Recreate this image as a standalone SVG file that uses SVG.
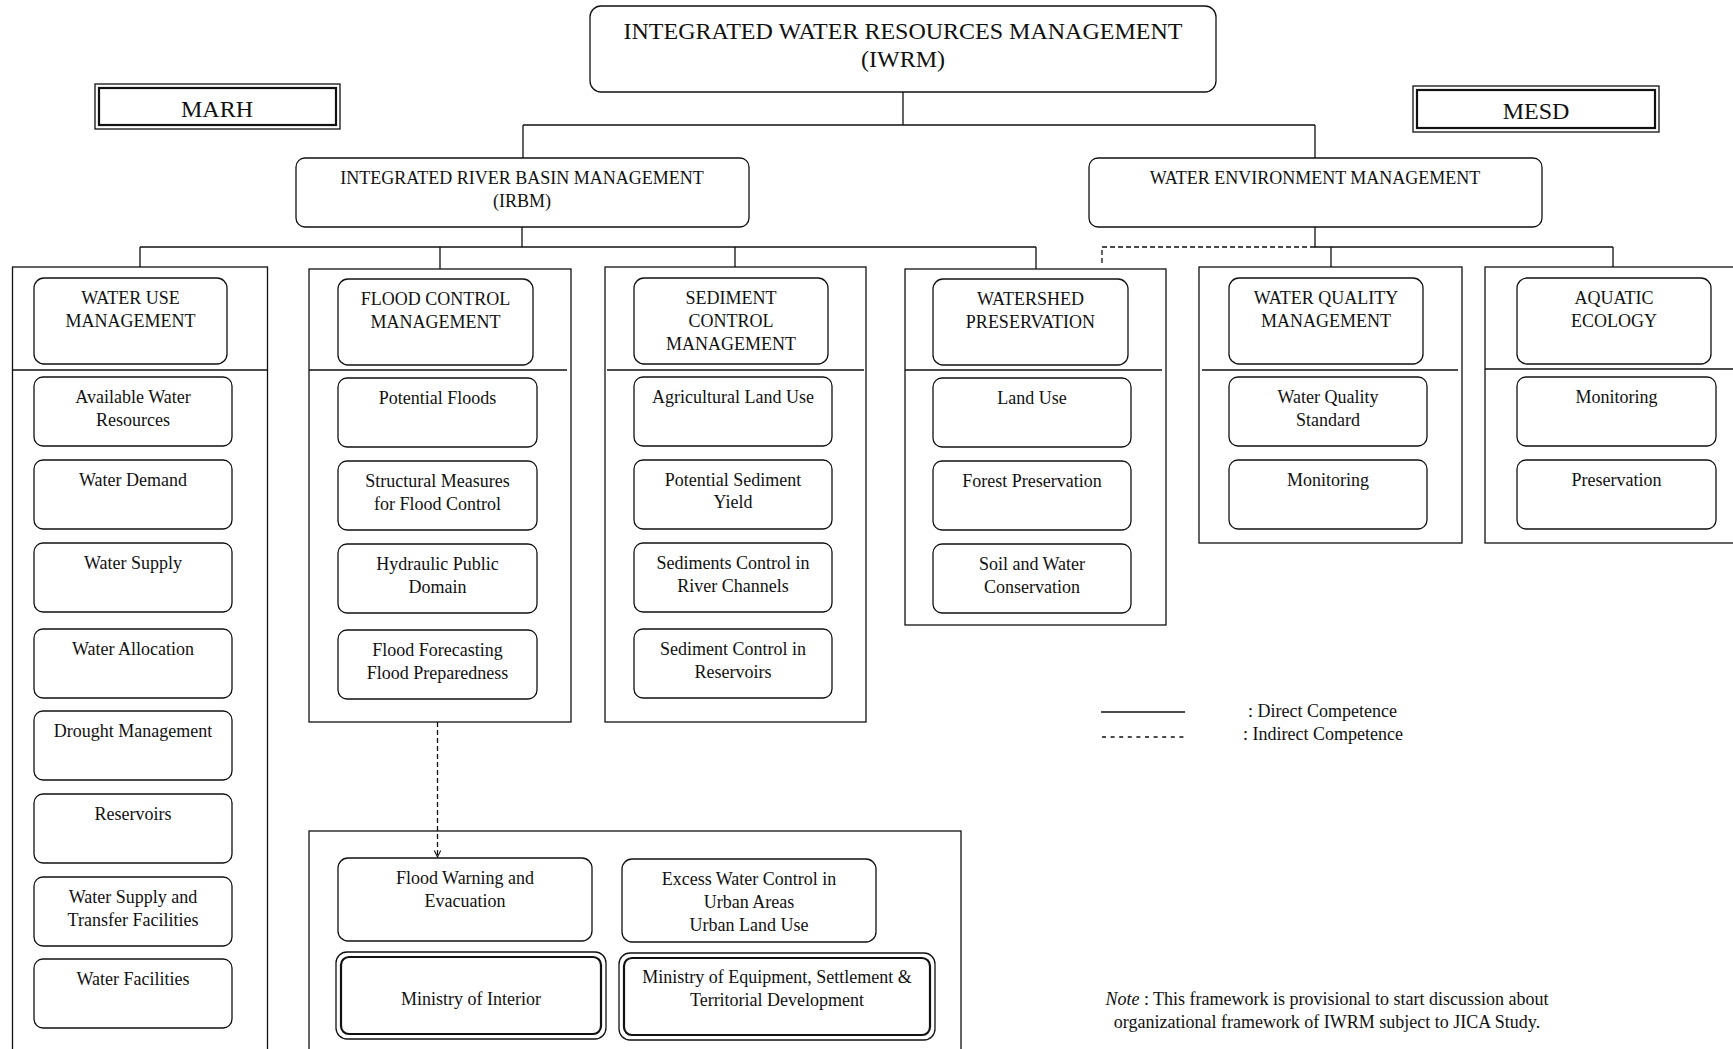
<svg xmlns="http://www.w3.org/2000/svg" width="1733" height="1049" viewBox="0 0 1733 1049">
  <style>
    .frame { fill: none; stroke: #111; stroke-width: 1.3; }
    .box { fill: #fff; stroke: #111; stroke-width: 1.3; }
    .inner { fill: none; stroke: #111; stroke-width: 2.2; }
    .conn { fill: none; stroke: #111; stroke-width: 1.3; }
    .dash { stroke-dasharray: 5 3; }
    text { font-family: "Liberation Serif", "Times New Roman", serif; font-size: 18px; fill: #111; }
    .c { text-anchor: middle; }
    .title { font-size: 24px; }
    .org { font-size: 24px; }
  </style>
  <defs>
    <marker id="openArrow" viewBox="0 0 10 10" refX="9" refY="5" markerWidth="8" markerHeight="8" markerUnits="userSpaceOnUse" orient="auto">
      <path d="M1,1 L9,5 L1,9" fill="none" stroke="#111" stroke-width="1.3"/>
    </marker>
  </defs>
  <rect width="1733" height="1049" fill="#fff"/>

  <!-- connectors -->
  <g id="connectors">
    <path class="conn" d="M903,92 V125 M523,125 H1315 M523,125 V158 M1315,125 V158"/>
    <path class="conn" d="M522,227 V247 M140,247 H1036 M140,247 V267 M440,247 V269 M735,247 V267 M1036,247 V269"/>
    <path class="conn" d="M1315,227 V247 H1613 M1331,247 V267 M1613,247 V267"/>
    <path class="conn dash" d="M1315,247 H1102 V265"/>
    <path class="conn dash" d="M437.5,722 V857" marker-end="url(#openArrow)"/>
  </g>

  <!-- top level -->
  <g id="iwrm">
    <rect class="box" x="590" y="6" width="626" height="86" rx="11"/>
    <text class="c title" x="903" y="39">INTEGRATED WATER RESOURCES MANAGEMENT</text>
    <text class="c title" x="903" y="67">(IWRM)</text>
  </g>
  <g id="marh">
    <rect class="frame" x="95" y="84" width="245" height="45"/>
    <rect class="inner" x="99" y="88" width="237" height="37"/>
    <text class="c org" x="217" y="117">MARH</text>
  </g>
  <g id="mesd">
    <rect class="frame" x="1413" y="86" width="246" height="46"/>
    <rect class="inner" x="1417" y="90" width="238" height="38"/>
    <text class="c org" x="1536" y="119">MESD</text>
  </g>
  <g id="irbm">
    <rect class="box" x="296" y="158" width="453" height="69" rx="9"/>
    <text class="c" x="522" y="184">INTEGRATED RIVER BASIN MANAGEMENT</text>
    <text class="c" x="522" y="207">(IRBM)</text>
  </g>
  <g id="wem">
    <rect class="box" x="1089" y="158" width="453" height="69" rx="9"/>
    <text class="c" x="1315" y="184">WATER ENVIRONMENT MANAGEMENT</text>
  </g>

  <!-- water use column -->
  <g id="col-water-use">
    <rect class="frame" x="12.5" y="267" width="255" height="800"/>
    <line class="conn" x1="12.5" y1="370" x2="268" y2="370"/>
    <g id="water-use-mgmt">
      <rect class="box" x="34" y="278" width="193" height="86" rx="10"/>
      <text class="c" x="130.5" y="304">WATER USE</text>
      <text class="c" x="130.5" y="327">MANAGEMENT</text>
    </g>
    <g id="available-water">
      <rect class="box" x="34" y="377" width="198" height="69" rx="9"/>
      <text class="c" x="133" y="403">Available Water</text>
      <text class="c" x="133" y="426">Resources</text>
    </g>
    <g id="water-demand">
      <rect class="box" x="34" y="460" width="198" height="69" rx="9"/>
      <text class="c" x="133" y="486">Water Demand</text>
    </g>
    <g id="water-supply">
      <rect class="box" x="34" y="543" width="198" height="69" rx="9"/>
      <text class="c" x="133" y="569">Water Supply</text>
    </g>
    <g id="water-allocation">
      <rect class="box" x="34" y="629" width="198" height="69" rx="9"/>
      <text class="c" x="133" y="655">Water Allocation</text>
    </g>
    <g id="drought">
      <rect class="box" x="34" y="711" width="198" height="69" rx="9"/>
      <text class="c" x="133" y="737">Drought Management</text>
    </g>
    <g id="reservoirs">
      <rect class="box" x="34" y="794" width="198" height="69" rx="9"/>
      <text class="c" x="133" y="820">Reservoirs</text>
    </g>
    <g id="supply-transfer">
      <rect class="box" x="34" y="877" width="198" height="69" rx="9"/>
      <text class="c" x="133" y="903">Water Supply and</text>
      <text class="c" x="133" y="926">Transfer Facilities</text>
    </g>
    <g id="water-facilities">
      <rect class="box" x="34" y="959" width="198" height="69" rx="9"/>
      <text class="c" x="133" y="985">Water Facilities</text>
    </g>
  </g>

  <!-- flood control column -->
  <g id="col-flood">
    <rect class="frame" x="309" y="269" width="262" height="453"/>
    <line class="conn" x1="309" y1="370" x2="567" y2="370"/>
    <g id="flood-mgmt">
      <rect class="box" x="338" y="279" width="195" height="86" rx="10"/>
      <text class="c" x="435.5" y="305">FLOOD CONTROL</text>
      <text class="c" x="435.5" y="328">MANAGEMENT</text>
    </g>
    <g id="potential-floods">
      <rect class="box" x="338" y="378" width="199" height="69" rx="9"/>
      <text class="c" x="437.5" y="404">Potential Floods</text>
    </g>
    <g id="structural-measures">
      <rect class="box" x="338" y="461" width="199" height="69" rx="9"/>
      <text class="c" x="437.5" y="487">Structural Measures</text>
      <text class="c" x="437.5" y="510">for Flood Control</text>
    </g>
    <g id="hydraulic-domain">
      <rect class="box" x="338" y="544" width="199" height="69" rx="9"/>
      <text class="c" x="437.5" y="570">Hydraulic Public</text>
      <text class="c" x="437.5" y="593">Domain</text>
    </g>
    <g id="flood-forecasting">
      <rect class="box" x="338" y="630" width="199" height="69" rx="9"/>
      <text class="c" x="437.5" y="656">Flood Forecasting</text>
      <text class="c" x="437.5" y="679">Flood Preparedness</text>
    </g>
  </g>

  <!-- sediment column -->
  <g id="col-sediment">
    <rect class="frame" x="605" y="267" width="261" height="455"/>
    <line class="conn" x1="607" y1="370" x2="864" y2="370"/>
    <g id="sediment-mgmt">
      <rect class="box" x="634" y="278" width="194" height="86" rx="10"/>
      <text class="c" x="731" y="304">SEDIMENT</text>
      <text class="c" x="731" y="327">CONTROL</text>
      <text class="c" x="731" y="350">MANAGEMENT</text>
    </g>
    <g id="agri-land-use">
      <rect class="box" x="634" y="377" width="198" height="69" rx="9"/>
      <text class="c" x="733" y="403">Agricultural Land Use</text>
    </g>
    <g id="sediment-yield">
      <rect class="box" x="634" y="460" width="198" height="69" rx="9"/>
      <text class="c" x="733" y="486">Potential Sediment</text>
      <text class="c" x="733" y="508">Yield</text>
    </g>
    <g id="river-channels">
      <rect class="box" x="634" y="543" width="198" height="69" rx="9"/>
      <text class="c" x="733" y="569">Sediments Control in</text>
      <text class="c" x="733" y="592">River Channels</text>
    </g>
    <g id="sediment-reservoirs">
      <rect class="box" x="634" y="629" width="198" height="69" rx="9"/>
      <text class="c" x="733" y="655">Sediment Control in</text>
      <text class="c" x="733" y="678">Reservoirs</text>
    </g>
  </g>

  <!-- watershed column -->
  <g id="col-watershed">
    <rect class="frame" x="905" y="269" width="261" height="356"/>
    <line class="conn" x1="905" y1="370" x2="1162" y2="370"/>
    <g id="watershed-mgmt">
      <rect class="box" x="933" y="279" width="195" height="86" rx="10"/>
      <text class="c" x="1030.5" y="305">WATERSHED</text>
      <text class="c" x="1030.5" y="328">PRESERVATION</text>
    </g>
    <g id="land-use">
      <rect class="box" x="933" y="378" width="198" height="69" rx="9"/>
      <text class="c" x="1032" y="404">Land Use</text>
    </g>
    <g id="forest">
      <rect class="box" x="933" y="461" width="198" height="69" rx="9"/>
      <text class="c" x="1032" y="487">Forest Preservation</text>
    </g>
    <g id="soil-water">
      <rect class="box" x="933" y="544" width="198" height="69" rx="9"/>
      <text class="c" x="1032" y="570">Soil and Water</text>
      <text class="c" x="1032" y="593">Conservation</text>
    </g>
  </g>

  <!-- water quality column -->
  <g id="col-quality">
    <rect class="frame" x="1199" y="267" width="263" height="276"/>
    <line class="conn" x1="1202" y1="370" x2="1458" y2="370"/>
    <g id="quality-mgmt">
      <rect class="box" x="1229" y="278" width="194" height="86" rx="10"/>
      <text class="c" x="1326" y="304">WATER QUALITY</text>
      <text class="c" x="1326" y="327">MANAGEMENT</text>
    </g>
    <g id="quality-standard">
      <rect class="box" x="1229" y="377" width="198" height="69" rx="9"/>
      <text class="c" x="1328" y="403">Water Quality</text>
      <text class="c" x="1328" y="426">Standard</text>
    </g>
    <g id="quality-monitoring">
      <rect class="box" x="1229" y="460" width="198" height="69" rx="9"/>
      <text class="c" x="1328" y="486">Monitoring</text>
    </g>
  </g>

  <!-- aquatic ecology column -->
  <g id="col-aquatic">
    <rect class="frame" x="1485" y="267" width="270" height="276"/>
    <line class="conn" x1="1485" y1="369" x2="1740" y2="369"/>
    <g id="aquatic-mgmt">
      <rect class="box" x="1517" y="278" width="194" height="86" rx="10"/>
      <text class="c" x="1614" y="304">AQUATIC</text>
      <text class="c" x="1614" y="327">ECOLOGY</text>
    </g>
    <g id="aquatic-monitoring">
      <rect class="box" x="1517" y="377" width="199" height="69" rx="9"/>
      <text class="c" x="1616.5" y="403">Monitoring</text>
    </g>
    <g id="aquatic-preservation">
      <rect class="box" x="1517" y="460" width="199" height="69" rx="9"/>
      <text class="c" x="1616.5" y="486">Preservation</text>
    </g>
  </g>

  <!-- ministries block -->
  <g id="ministries">
    <rect class="frame" x="309" y="831" width="652" height="240"/>
    <g id="flood-warning">
      <rect class="box" x="338" y="858" width="254" height="83" rx="10"/>
      <text class="c" x="465" y="884">Flood Warning and</text>
      <text class="c" x="465" y="907">Evacuation</text>
    </g>
    <g id="excess-water">
      <rect class="box" x="622" y="859" width="254" height="83" rx="10"/>
      <text class="c" x="749" y="885">Excess Water Control in</text>
      <text class="c" x="749" y="908">Urban Areas</text>
      <text class="c" x="749" y="931">Urban Land Use</text>
    </g>
    <g id="ministry-interior">
      <rect class="box" x="336" y="952" width="270" height="87" rx="11"/>
      <rect class="inner" x="341" y="957" width="260" height="77" rx="8"/>
      <text class="c" x="471" y="1005">Ministry of Interior</text>
    </g>
    <g id="ministry-equipment">
      <rect class="box" x="619" y="953" width="316" height="87" rx="11"/>
      <rect class="inner" x="624" y="958" width="306" height="77" rx="8"/>
      <text class="c" x="777" y="983">Ministry of Equipment, Settlement &amp;</text>
      <text class="c" x="777" y="1006">Territorial Development</text>
    </g>
  </g>

  <!-- legend -->
  <g id="legend">
    <line class="conn" x1="1101" y1="712" x2="1185" y2="712"/>
    <line class="conn" x1="1102" y1="737" x2="1188" y2="737" stroke-dasharray="4 4.6"/>
    <text x="1248" y="717">: Direct Competence</text>
    <text x="1243" y="740">: Indirect Competence</text>
  </g>

  <!-- note -->
  <g id="note">
    <text class="c" x="1327" y="1005"><tspan font-style="italic">Note</tspan> : This framework is provisional to start discussion about</text>
    <text class="c" x="1327" y="1028">organizational framework of IWRM subject to JICA Study.</text>
  </g>
</svg>
